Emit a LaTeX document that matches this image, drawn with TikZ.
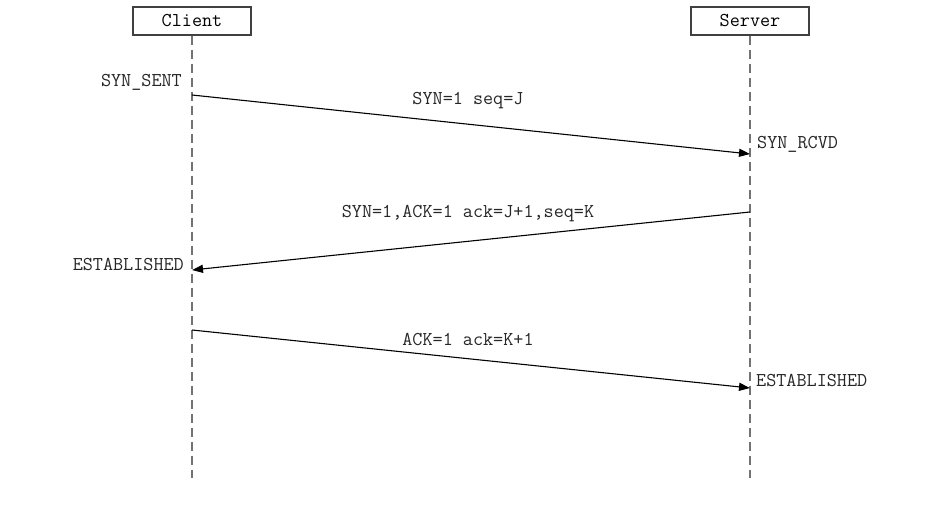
\documentclass[tikz,border=0pt]{standalone}
\usetikzlibrary{arrows.meta}
\begin{document}
\begin{tikzpicture}[x=1pt,y=-1pt,
  actor/.style={draw=black!75,line width=1.2pt,minimum width=118pt,minimum height=28pt,inner sep=0pt,font=\ttfamily\fontsize{19.6}{21}\selectfont},
  lifeline/.style={draw=black!55,line width=1.6pt,dash pattern=on 9pt off 5pt},
  msg/.style={draw=black,line width=1.1pt,-{Triangle[length=11pt,width=8pt]}},
  lbl/.style={inner sep=0pt,font=\ttfamily\fontsize{19.6}{21}\selectfont,text=black!85},
]
\useasboundingbox (0,0) rectangle (952,516);
\node[actor] (client) at (192,21) {Client};
\node[actor] (server) at (750,21) {Server};
\coordinate (cend) at (192,478);
\coordinate (send) at (750,478);
\draw[lifeline] (client.south) -- (cend);
\draw[lifeline] (server.south) -- (send);
\coordinate (c1) at (192,95);
\coordinate (s1) at (750,154);
\coordinate (s2) at (750,212);
\coordinate (c2) at (192,270);
\coordinate (c3) at (192,330);
\coordinate (s3) at (750,388);
\draw[msg] (c1) -- (s1);
\draw[msg] (s2) -- (c2);
\draw[msg] (c3) -- (s3);
\node[lbl] (m1) at (468,101) {SYN=1 seq=J};
\node[lbl] (m2) at (468,214) {SYN=1,ACK=1 ack=J+1,seq=K};
\node[lbl] (m3) at (468,339) {ACK=1 ack=K+1};
\node[lbl,anchor=east] (st1) at (182,82) {SYN\_SENT};
\node[lbl,anchor=west] (st2) at (757,144) {SYN\_RCVD};
\node[lbl,anchor=east] (st3) at (184,264) {ESTABLISHED};
\node[lbl,anchor=west] (st4) at (756,380) {ESTABLISHED};
\end{tikzpicture}
\end{document}
